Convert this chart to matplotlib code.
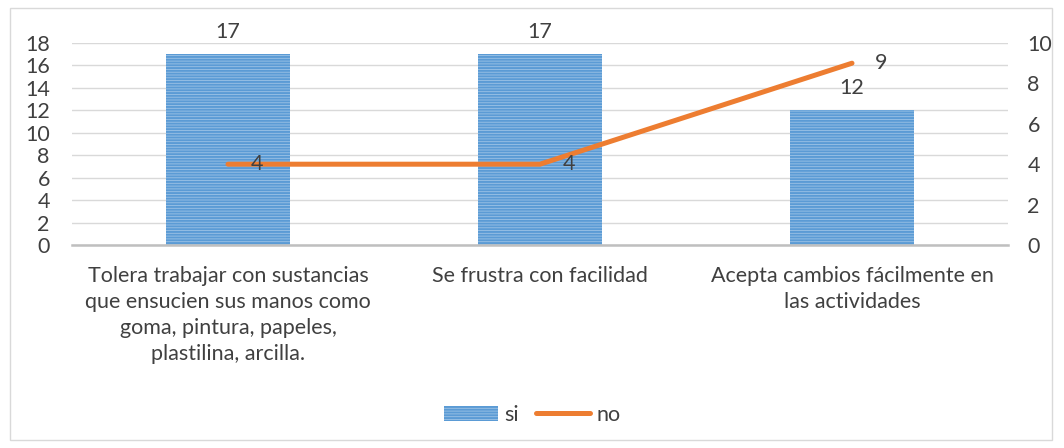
import matplotlib.pyplot as plt
import matplotlib
from matplotlib.patches import Rectangle
from matplotlib.lines import Line2D
import numpy as np

matplotlib.rcParams['font.family'] = ['Lato', 'DejaVu Sans']
matplotlib.rcParams['hatch.linewidth'] = 1.4

categories = [
    "Tolera trabajar con sustancias\nque ensucien sus manos como\ngoma, pintura, papeles,\nplastilina, arcilla.",
    "Se frustra con facilidad",
    "Acepta cambios fácilmente en\nlas actividades",
]
si = [17, 17, 12]
no = [4, 4, 9]

text_color = '#404040'
bar_face = '#9DC3E6'
bar_hatch = '#5B9BD5'
line_color = '#ED7D31'
fs = 15.5

fig = plt.figure(figsize=(10.64, 4.48), dpi=100)
ax = fig.add_axes([72 / 1064, 1 - 245 / 448, 936 / 1064, 202 / 448])
ax2 = ax.twinx()

x = np.arange(len(categories))
ax.bar(x, si, width=0.4, color=bar_face, edgecolor=bar_hatch,
       hatch='------', linewidth=0, zorder=2)
for xi, v in zip(x, si):
    ax.annotate(str(v), (xi, v), xytext=(0, 9), textcoords='offset points',
                ha='center', va='bottom', fontsize=fs, color=text_color)

ax2.plot(x, no, color=line_color, linewidth=3.6, solid_capstyle='round', zorder=3)
for xi, v in zip(x, no):
    ax2.annotate(str(v), (xi, v), xytext=(21, 0), textcoords='offset points',
                 ha='center', va='center', fontsize=fs, color=text_color)

ax.set_xlim(-0.5, 2.5)
ax.set_ylim(0, 18)
ax.set_yticks(np.arange(0, 19, 2))
ax2.set_ylim(0, 10)
ax2.set_yticks(np.arange(0, 11, 2))

ax.yaxis.grid(True, color='#D9D9D9', linewidth=1)
ax.set_axisbelow(True)
ax.set_zorder(ax2.get_zorder() - 1)
ax.patch.set_visible(False)

for a in (ax, ax2):
    for s in a.spines.values():
        s.set_visible(False)
    a.tick_params(length=0, labelsize=fs, labelcolor=text_color)
ax.spines['bottom'].set_visible(True)
ax.spines['bottom'].set_color('#BFBFBF')
ax.spines['bottom'].set_linewidth(1.8)
ax.tick_params(axis='y', pad=16)
ax2.tick_params(axis='y', pad=14)

ax.set_xticks(x)
ax.set_xticklabels(categories, fontsize=fs, linespacing=1.38, color=text_color)
ax.tick_params(axis='x', pad=15)

handles = [Rectangle((0, 0), 1, 1, facecolor=bar_face, edgecolor=bar_hatch,
                     hatch='------', linewidth=0),
           Line2D([0], [0], color=line_color, linewidth=3.6, solid_capstyle='round')]
fig.legend(handles, ['si', 'no'], loc='center', bbox_to_anchor=(0.5, 1 - 415 / 448),
           ncol=2, frameon=False, fontsize=fs, handlelength=2.5, columnspacing=0.8,
           handletextpad=0.3, labelcolor=text_color)

fig.patches.append(Rectangle((10 / 1064, 8 / 448), 1042 / 1064, 432 / 448,
                             transform=fig.transFigure, fill=False,
                             edgecolor='#D9D9D9', linewidth=1))

fig.savefig('out.png', dpi=100)
